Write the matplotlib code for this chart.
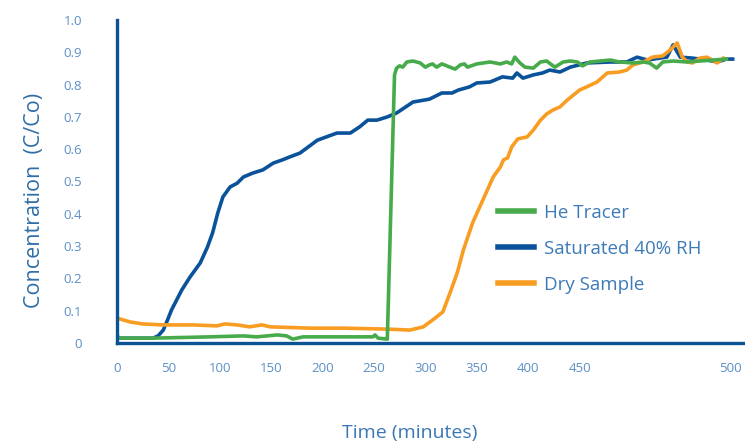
import matplotlib.pyplot as plt
import numpy as np

# time (minutes) and concentration C/Co
he_t = [0, 1, 35, 90, 123, 136, 156, 165, 171, 181, 195, 220, 249, 251, 254, 263,
        270, 272, 275, 278, 282, 288, 295, 300, 304, 307, 311, 316, 324, 329, 334,
        338, 341, 350, 363, 373, 379, 384, 387, 392, 397, 405, 412, 418, 426, 434,
        441, 448, 453, 460, 470, 480, 489, 502, 512, 518, 525, 531, 541, 555, 567,
        580, 593]
he_c = [0.031, 0.015, 0.015, 0.019, 0.022, 0.019, 0.025, 0.022, 0.012, 0.019, 0.019,
        0.019, 0.019, 0.025, 0.015, 0.012, 0.830, 0.851, 0.858, 0.854, 0.870, 0.873,
        0.867, 0.854, 0.861, 0.864, 0.854, 0.864, 0.854, 0.848, 0.861, 0.864, 0.854,
        0.864, 0.870, 0.864, 0.870, 0.864, 0.885, 0.867, 0.854, 0.851, 0.870, 0.873,
        0.854, 0.870, 0.873, 0.870, 0.858, 0.870, 0.873, 0.876, 0.870, 0.867, 0.870,
        0.867, 0.851, 0.870, 0.873, 0.870, 0.873, 0.876, 0.879]

sat_t = [0, 35, 40, 45, 49, 53, 58, 63, 71, 81, 88, 93, 98, 103, 110, 117, 123, 132,
         142, 152, 161, 168, 178, 195, 214, 227, 236, 244, 253, 263, 272, 288, 304,
         316, 326, 332, 343, 350, 363, 375, 385, 389, 395, 405, 414, 421, 431, 441,
         457, 480, 496, 506, 516, 528, 535, 541, 548, 560, 574, 584, 593, 599]
sat_c = [0.015, 0.015, 0.022, 0.040, 0.070, 0.102, 0.133, 0.164, 0.204, 0.248, 0.297,
         0.341, 0.402, 0.452, 0.483, 0.495, 0.514, 0.526, 0.536, 0.557, 0.567, 0.576,
         0.588, 0.628, 0.650, 0.650, 0.669, 0.690, 0.690, 0.700, 0.712, 0.746, 0.755,
         0.774, 0.774, 0.783, 0.793, 0.805, 0.808, 0.824, 0.820, 0.836, 0.820, 0.830,
         0.836, 0.845, 0.839, 0.854, 0.867, 0.870, 0.870, 0.885, 0.876, 0.882, 0.885,
         0.923, 0.885, 0.882, 0.876, 0.870, 0.879, 0.879]

dry_t = [0, 13, 25, 45, 74, 97, 105, 117, 129, 141, 149, 188, 220, 263, 285, 298,
         307, 317, 324, 331, 337, 346, 356, 366, 373, 376, 380, 384, 390, 399, 405,
         412, 418, 424, 431, 438, 450, 457, 467, 477, 489, 496, 502, 512, 521, 531,
         538, 545, 550, 555, 560, 567, 574, 584, 590]
dry_c = [0.077, 0.065, 0.059, 0.056, 0.056, 0.053, 0.059, 0.056, 0.050, 0.056, 0.050,
         0.046, 0.046, 0.043, 0.040, 0.050, 0.071, 0.096, 0.155, 0.217, 0.288, 0.372,
         0.443, 0.514, 0.545, 0.567, 0.573, 0.607, 0.632, 0.638, 0.659, 0.690, 0.709,
         0.721, 0.731, 0.752, 0.783, 0.793, 0.808, 0.836, 0.839, 0.845, 0.861, 0.870,
         0.885, 0.889, 0.907, 0.929, 0.885, 0.870, 0.867, 0.882, 0.885, 0.867, 0.882]

x_ticks = [0, 50, 100, 150, 200, 250, 300, 350, 400, 450, 597]
x_labels = ['0', '50', '100', '150', '200', '250', '300', '350', '400', '450', '500']
y_ticks = [0, 0.1, 0.2, 0.3, 0.4, 0.5, 0.6, 0.7, 0.8, 0.9, 1.0]
y_labels = ['0', '0.1', '0.2', '0.3', '0.4', '0.5', '0.6', '0.7', '0.8', '0.9', '1.0']

plt.rcParams['font.family'] = ['Open Sans', 'DejaVu Sans']

fig = plt.figure(figsize=(7.45, 4.45), dpi=100)
ax = fig.add_axes([117 / 745, 1 - 343 / 445, 1 - 117 / 745, 323 / 445])

ax.plot(he_t, he_c, color='#47ab4c', lw=2.6, label='He Tracer', zorder=3,
        solid_joinstyle='round')
ax.plot(sat_t, sat_c, color='#0a5299', lw=2.6, label='Saturated 40% RH', zorder=2,
        solid_joinstyle='round')
ax.plot(dry_t, dry_c, color='#f99d22', lw=2.6, label='Dry Sample', zorder=2,
        solid_joinstyle='round')

ax.set_xlim(0, 611)
ax.set_ylim(0, 1.0)
for s in ['top', 'right']:
    ax.spines[s].set_visible(False)
for s in ['left', 'bottom']:
    ax.spines[s].set_color('#0b5394')
    ax.spines[s].set_linewidth(2.4)
    ax.spines[s].set_zorder(4)

ax.set_xticks(x_ticks)
ax.set_xticklabels(x_labels)
ax.set_yticks(y_ticks)
ax.set_yticklabels(y_labels)
ax.tick_params(axis='both', length=0, labelsize=9.5, labelcolor='#5b8fc7')
ax.tick_params(axis='y', pad=25)
ax.tick_params(axis='x', pad=14)

fig.text(35 / 745, 1 - 200 / 445, 'Concentration  (C/Co)', rotation=90,
         ha='center', va='center', fontsize=15.5, color='#2f6ea8')
fig.text(410 / 745, 1 - 433 / 445, 'Time (minutes)', ha='center', va='center',
         fontsize=14, color='#3a78b5')

leg = ax.legend(loc='upper left', bbox_to_anchor=(498 / 745, 1 - 204 / 445),
                bbox_transform=fig.transFigure, frameon=False, fontsize=13.5,
                handlelength=1.9, handletextpad=0.55, labelspacing=0.95,
                borderpad=0, borderaxespad=0)
for t in leg.get_texts():
    t.set_color('#3d7ab8')
for h in leg.get_lines():
    h.set_linewidth(4)

fig.savefig('out.png', dpi=100)
